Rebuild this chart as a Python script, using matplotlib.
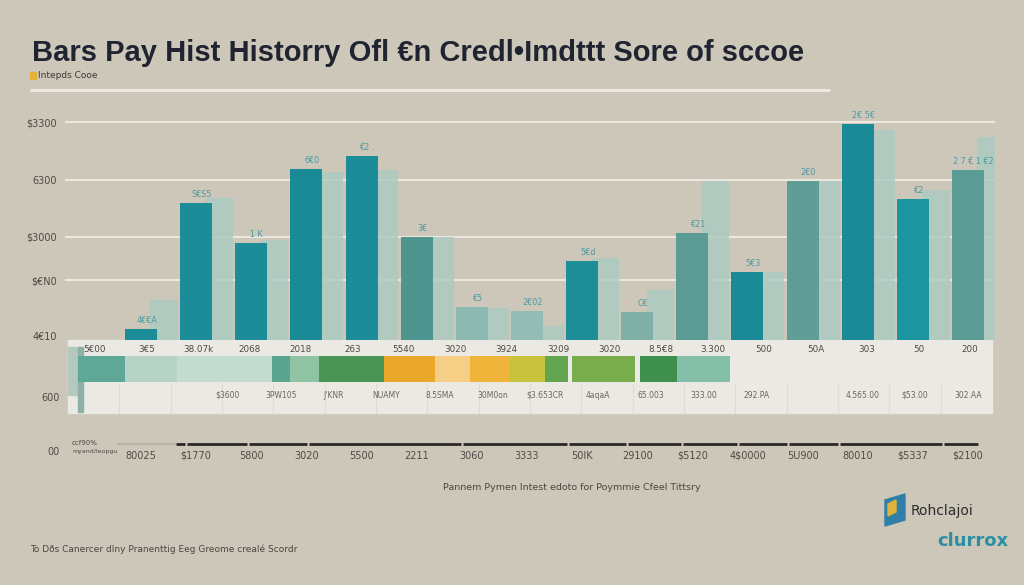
import matplotlib
matplotlib.use("Agg")
import matplotlib.pyplot as plt
import numpy as np
from matplotlib.patches import Rectangle, Polygon

# ---------------- data ----------------
title = "Bars Pay Hist Historry Ofl \u20acn Credl\u2022Imdttt Sore of sccoe"
subtitle = "Intepds Cooe"

y_ticks = [4, 60, 103, 160, 218]
y_tick_labels = ["4\u20ac10", "$\u20acN0", "$3000", "6300", "$3300"]

front_vals = [11, 137, 97, 171, 184, 103, 33, 29, 79, 28, 107, 68, 159, 216, 141, 170]
back_vals = [40, 142, 100, 168, 170, 103, 32, 14, 82, 50, 159, 68, 159, 210, 150, 203]
front_colors = ["#1b8c98", "#1b8c98", "#1b8c98", "#1a8b96", "#1b8c98", "#4f958f",
                "#8cbab2", "#93bdb4", "#1d8d97", "#7fb0a8", "#5b9b94", "#1a8a96",
                "#5f9d96", "#1a8a96", "#1b95a0", "#5a9c95"]
bar_labels = ["4\u20ac\u20acA", "S\u20acS5", "1 K", "6\u20ac0", "\u20ac2 .", "3\u20ac",
              "\u20ac5", "2\u20ac02", "5\u20acd", "C\u20ac", "\u20ac21", "5\u20ac3",
              "2\u20ac0", "2\u20ac 5\u20ac", "\u20ac2", "2 7 \u20ac 1 \u20ac2"]

row1_labels = ["5\u20ac00", "3\u20ac5", "38.07k", "2068", "2018", "263", "5540", "3020",
               "3924", "3209", "3020", "8.5\u20ac8", "3.300", "500", "50A", "303", "50", "200"]
row3_labels = ["$3600", "3PW105", "J'KNR", "NUAMY", "8.5SMA", "30M0on", "$3.653CR",
               "4aqaA", "65.003", "333.00", "292.PA", "", "4.565.00", "$53.00", "302.AA"]
bottom_labels = ["80025", "$1770", "5800", "3020", "5500", "2211", "3060", "3333",
                 "50IK", "29100", "$5120", "4$0000", "5U900", "80010", "$5337", "$2100"]

stripe_widths = [47, 52, 95, 18, 29, 65, 51, 35, 40, 35, 23, 4, 63, 5, 37, 53]
stripe_colors = ["#5fa898", "#b5d3c7", "#c3dbd1", "#5aa58f", "#8fc3a3", "#4a9455",
                 "#e9a82a", "#f4cf85", "#f0b43a", "#c9c23f", "#64a550", "#ebe9e3",
                 "#79ad4c", "#ebe9e3", "#3f8f4e", "#84bfa9"]

footer_center = "Pannem Pymen Intest edoto for Poymmie Cfeel Tittsry"
footer_left = "To D\u00f0s Canercer dlny Pranenttig Eeg Greome creal\u00e9 Scordr"

# ---------------- figure ----------------
BG = "#cdc7ba"
W, H = 1024, 585
fig = plt.figure(figsize=(W / 100, H / 100), dpi=100, facecolor=BG)

# overlay in pixel coordinates for decorations
ov = fig.add_axes([0, 0, 1, 1], zorder=0)
ov.set_xlim(0, W)
ov.set_ylim(H, 0)
ov.axis("off")
ov.set_facecolor(BG)

txtc = "#4d4a45"

# title and subtitle
ov.text(32, 53, title, fontsize=21, fontweight="bold", color="#1f2430",
        va="center", ha="left", family="Liberation Sans")
ov.add_patch(Rectangle((30, 72), 6, 7, color="#e6b33a"))
ov.text(38, 76, subtitle, fontsize=6.5, color="#3d3a35", va="center", ha="left")
ov.plot([30, 830], [90, 90], color="#ede9e0", lw=2.2, solid_capstyle="butt")

# table band
band_l, band_r, band_t, band_b = 68, 992, 340, 413
ov.add_patch(Rectangle((band_l, band_t), band_r - band_l, band_b - band_t,
                       color="#ebe9e3", zorder=1))
ov.add_patch(Rectangle((68, 347), 10, 48, color="#b4c8c0", zorder=2))
ov.add_patch(Rectangle((78, 347), 5, 65, color="#8fb0a6", zorder=2))
# column separators
for xs in np.linspace(band_l, band_r, 19)[1:-1]:
    ov.plot([xs, xs], [384, 413], color="#dedbd3", lw=0.8, zorder=2)

# stripe drawn as stacked horizontal bars
lefts = 78 + np.concatenate([[0], np.cumsum(stripe_widths)[:-1]])
ov.barh([369] * len(stripe_widths), stripe_widths, left=lefts, height=26,
        color=stripe_colors, zorder=3)

# row labels
row1_x = np.linspace(95, 970, len(row1_labels))
for x, s in zip(row1_x, row1_labels):
    ov.text(x, 349, s, fontsize=6.3, color=txtc, ha="center", va="center", zorder=4)
row3_x = np.linspace(228, 968, len(row3_labels))
for x, s in zip(row3_x, row3_labels):
    ov.text(x, 395, s, fontsize=5.5, color="#6a665f", ha="center", va="center", zorder=4)

# left labels outside the axes
ov.text(60, 398, "600", fontsize=7, color=txtc, ha="right", va="center")
ov.text(60, 452, "00", fontsize=7, color=txtc, ha="right", va="center")
ov.text(72, 443, "ccf90%", fontsize=5, color=txtc, ha="left", va="center")
ov.text(72, 452, "myand/leopgu", fontsize=4.5, color=txtc, ha="left", va="center")

# bottom rule with small gaps
breaks = [175, 186, 248, 308, 462, 568, 627, 682, 738, 788, 839, 943, 979]
ov.plot([118, 175], [444, 444], color="#b9b3a7", lw=1.5)
for a, b in zip(breaks[:-1], breaks[1:]):
    ov.plot([a + 1, b - 1], [444, 444], color="#2a2825", lw=2, solid_capstyle="butt")

# footer
ov.text(572, 488, footer_center, fontsize=6.8, color="#4a4741", ha="center", va="center")
ov.text(30, 549, footer_left, fontsize=6.5, color="#4a4741", ha="left", va="center")
ov.add_patch(Polygon([[885, 500], [905, 494], [905, 520], [885, 526]], color="#2f7fa8"))
ov.add_patch(Polygon([[888, 504], [896, 500], [896, 512], [888, 516]], color="#e2b33c"))
ov.text(911, 511, "Rohclajoi", fontsize=10, color="#2b2b2b", ha="left", va="center")
ov.text(1008, 541, "clurrox", fontsize=13, fontweight="bold", color="#2b8fa3",
        ha="right", va="center")

# ---------------- bar chart axes ----------------
px_l, px_r, px_base, px_top = 65, 995, 340, 100
ax = fig.add_axes([px_l / W, (H - px_base) / H, (px_r - px_l) / W, (px_base - px_top) / H],
                  zorder=2)
ax.set_facecolor("none")
spacing = (968 - 141) / 15.0
ax.set_xlim((px_l - 141) / spacing, (px_r - 141) / spacing)
ax.set_ylim(0, px_base - px_top)
for s in ax.spines.values():
    s.set_visible(False)

for g in y_ticks[1:]:
    ax.axhline(g, color="#ece8df", lw=1.5, zorder=0)

x = np.arange(len(front_vals))
ax.bar(x + 0.42, back_vals, width=0.5, color="#a9cbc2", alpha=0.8, zorder=1)
ax.bar(x, front_vals, width=0.58, color=front_colors, zorder=2)

for xi, v, s in zip(x, front_vals, bar_labels):
    ax.text(xi + 0.1, v + 4, s, fontsize=5.8, color="#4a9aa2", ha="center", va="bottom", zorder=3)

ax.set_xticks([])
ax.set_yticks(y_ticks)
ax.set_yticklabels(y_tick_labels, fontsize=7, color=txtc)
ax.tick_params(axis="y", length=0, pad=6)

# bottom labels aligned with categories
for xi, s in zip(x, bottom_labels):
    xp = 141 + xi * spacing
    ov.text(xp, 456, s, fontsize=7, color=txtc, ha="center", va="center")

fig.savefig("out.png", dpi=100, facecolor=BG)
